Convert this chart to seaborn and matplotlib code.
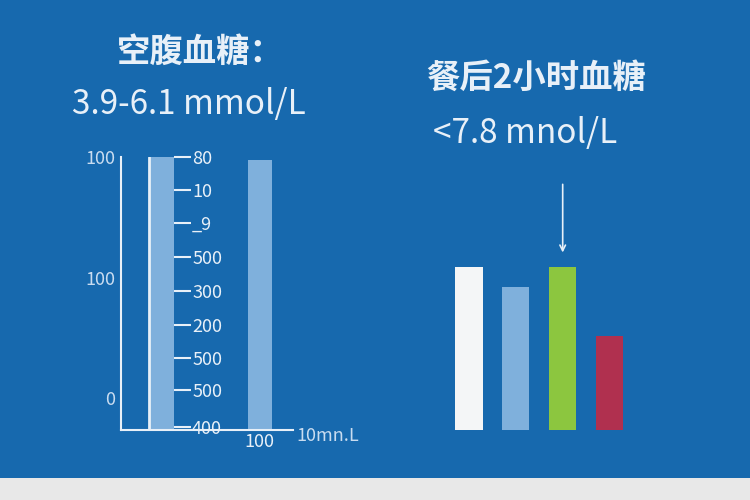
import numpy as np
import matplotlib
matplotlib.use("Agg")
import matplotlib.pyplot as plt
import seaborn as sns

sns.set_style("white")
plt.rcParams['font.family'] = ['Noto Sans CJK SC', 'DejaVu Sans']

# left panel (fasting)
left_x = [0.238, 0.81]
left_vals = [100, 99]
left_yticks = [100, 55.7, 11.7]
left_ylabels = ['100', '100', '0']
mid_ticks = [100, 88, 76, 63.5, 51, 38.5, 26.5, 14.5, 1]
mid_labels = ['80', '10', '_9', '500', '300', '200', '500', '500', '400']

# right panel (2h after meal)
right_cats = ['a', 'b', 'c', 'd']
right_vals = [59.7, 52.4, 59.7, 34.4]
right_colors = ['#f4f6f7', '#7fb0dc', '#8cc63f', '#b0304f']

bg = '#1769ae'
fig = plt.figure(figsize=(7.5, 5), dpi=100, facecolor=bg)

ax = fig.add_axes([0.161, 0.14, 0.229, 0.546])
ax.set_facecolor('none')
ax.bar(left_x, left_vals, width=0.14, color='#7fb0dc', edgecolor='none')
ax.axvline(left_x[0] - 0.072, ymax=1.0, color='#e8f0f8', lw=2)
ax.set_xlim(0, 1)
ax.set_ylim(0, 100)
for s in ['top', 'right']:
    ax.spines[s].set_visible(False)
for s in ['left', 'bottom']:
    ax.spines[s].set_color('#e8f0f8')
    ax.spines[s].set_linewidth(1.5)
ax.set_yticks(left_yticks)
ax.set_yticklabels(left_ylabels, color='#c9dcf0', fontsize=13)
ax.tick_params(axis='y', length=0, pad=4)
ax.set_xticks(left_x)
ax.set_xticklabels(['', '100'], color='#e8f0f8', fontsize=13)
ax.tick_params(axis='x', colors='#e8f0f8', length=6, direction='in', pad=2)
ax.text(1.02, -0.04, '10mn.L', transform=ax.transAxes, color='#c9dcf0', fontsize=13)

ax2 = ax.twinx()
ax2.set_ylim(0, 100)
ax2.spines['right'].set_position(('axes', 0.31))
for s in ax2.spines.values():
    s.set_visible(False)
ax2.set_yticks(mid_ticks)
ax2.set_yticklabels(mid_labels, fontsize=13)
ax2.tick_params(axis='y', colors='#e8f0f8', length=12, width=1.5, direction='out', pad=1)

axr = fig.add_axes([0.594, 0.14, 0.25, 0.546])
axr.set_facecolor('none')
sns.barplot(x=right_cats, y=right_vals, hue=right_cats, palette=right_colors,
            width=0.58, legend=False, ax=axr, saturation=1, edgecolor='none')
axr.set_ylim(0, 100)
axr.axis('off')
axr.annotate('', xy=(2, 64), xytext=(2, 91),
             arrowprops=dict(arrowstyle='->', color='#e8f0f8', lw=1.2))

fig.text(0.267, 0.895, '空腹血糖：', color='#e8f0f8', fontsize=24,
         fontweight='bold', ha='center', va='center')
fig.text(0.252, 0.79, '3.9-6.1 mmol/L', color='#e8f0f8', fontsize=24,
         fontweight='medium', ha='center', va='center')
fig.text(0.715, 0.843, '餐后2小时血糖', color='#e8f0f8', fontsize=24,
         fontweight='bold', ha='center', va='center')
fig.text(0.7, 0.733, '<7.8 mnol/L', color='#e8f0f8', fontsize=24,
         fontweight='medium', ha='center', va='center')

band = fig.add_axes([0, 0, 1, 0.044])
band.set_facecolor('#e8e8e8')
band.set_xticks([])
band.set_yticks([])
for s in band.spines.values():
    s.set_visible(False)

fig.savefig('out.png', dpi=100, facecolor=bg)
